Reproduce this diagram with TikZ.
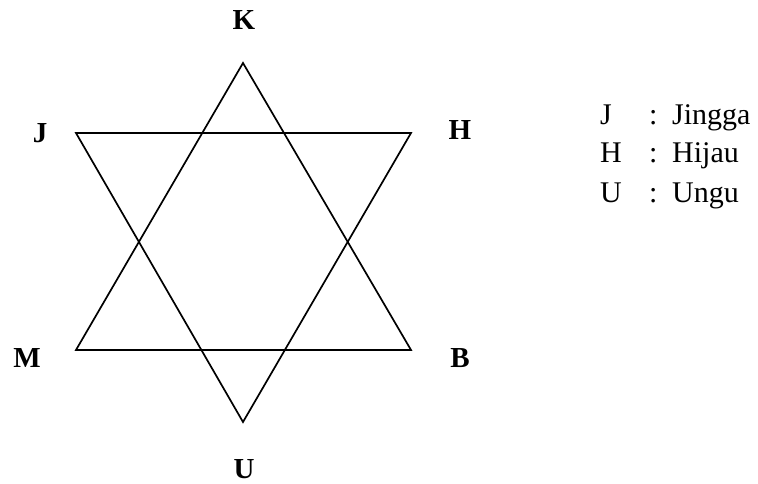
\documentclass[tikz,border=0pt]{standalone}
\usepackage{fontspec}
\setmainfont{Liberation Serif}
\begin{document}
\begin{tikzpicture}[x=1pt,y=-1pt,
  edge/.style={line width=1.7pt, line join=miter},
  vlabel/.style={font=\fontsize{29}{34}\selectfont\bfseries, inner sep=0pt},
  legend/.style={font=\fontsize{30}{36}\selectfont, inner sep=0pt, anchor=base west}]
\useasboundingbox (0,0) rectangle (758,484);
% vertices
\coordinate (k) at (243,63);
\coordinate (m) at (76,350);
\coordinate (b) at (411,350);
\coordinate (j) at (76,133);
\coordinate (h) at (411,133);
\coordinate (u) at (243,422);
\draw[edge] (k) -- (m) -- (b) -- cycle;
\draw[edge] (j) -- (h) -- (u) -- cycle;
% labels
\node[vlabel] (lk) at (244,20) {K};
\node[vlabel] (lj) at (40,133) {J};
\node[vlabel] (lh) at (460,130) {H};
\node[vlabel] (lm) at (27,358) {M};
\node[vlabel] (lb) at (460,358) {B};
\node[vlabel] (lu) at (244,469) {U};
% legend
\node[legend] (l1a) at (600,125) {J};
\node[legend] (l1b) at (649,125) {:};
\node[legend] (l1c) at (672,125) {Jingga};
\node[legend] (l2a) at (600,163) {H};
\node[legend] (l2b) at (649,163) {:};
\node[legend] (l2c) at (672,163) {Hijau};
\node[legend] (l3a) at (600,202) {U};
\node[legend] (l3b) at (649,202) {:};
\node[legend] (l3c) at (672,202) {Ungu};
\end{tikzpicture}
\end{document}
